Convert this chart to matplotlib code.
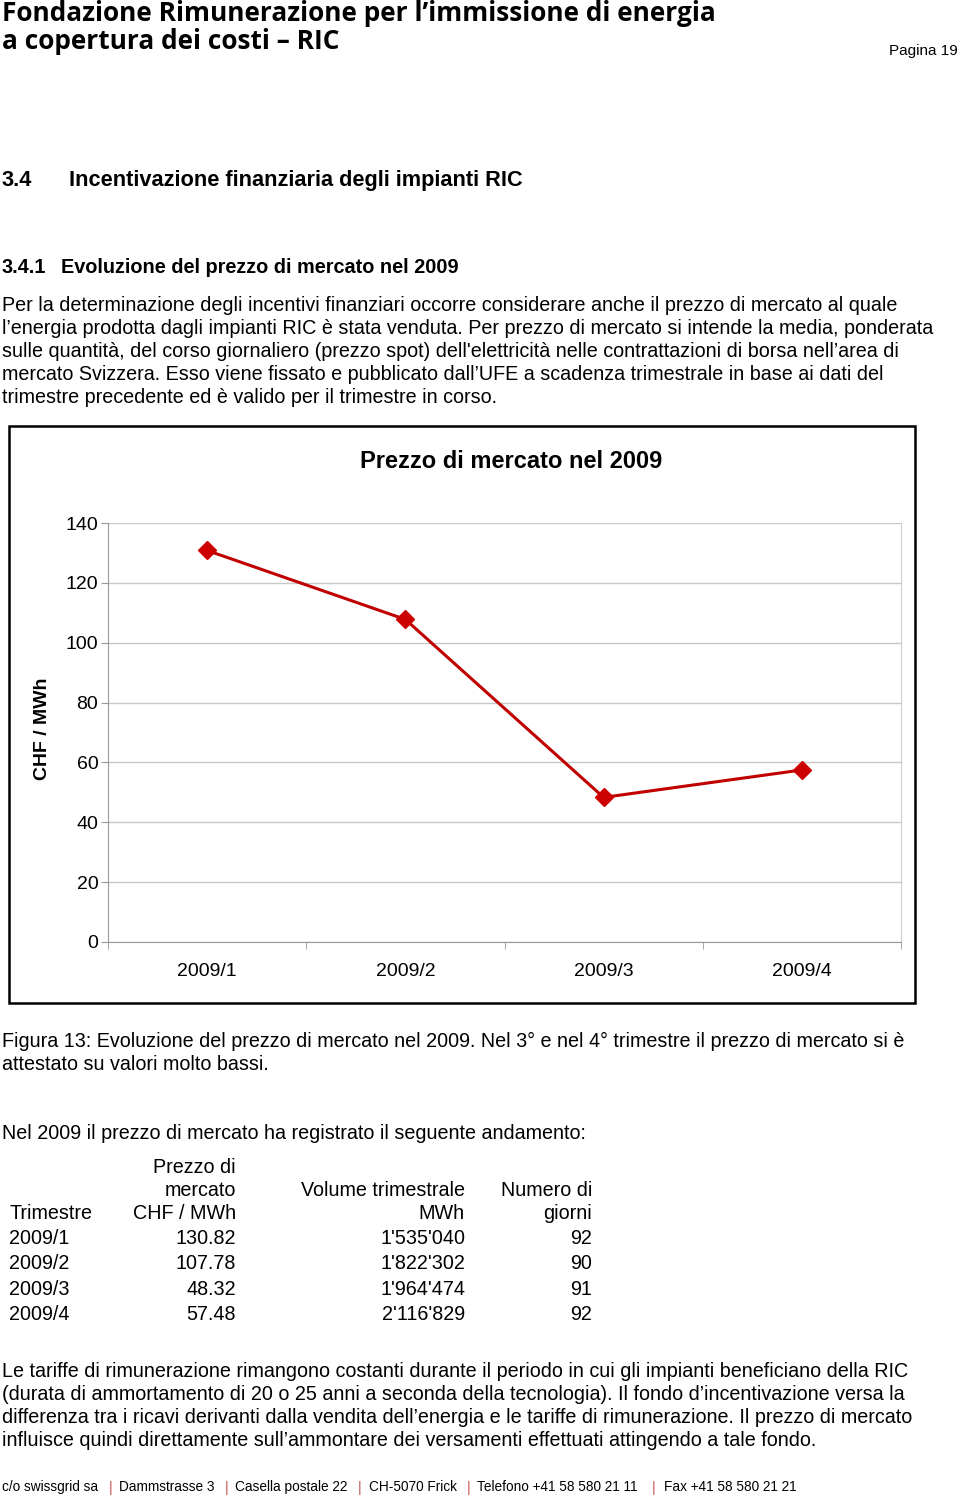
import matplotlib
matplotlib.use('Agg')
import matplotlib.pyplot as plt
from matplotlib.patches import Rectangle

# data
quarters = ['2009/1', '2009/2', '2009/3', '2009/4']
prices = [130.82, 107.78, 48.32, 57.48]
volumes = [1535040, 1822302, 1964474, 2116829]
days = [92, 90, 91, 92]
y_ticks = [0, 20, 40, 60, 80, 100, 120, 140]

W, H = 960, 1501
BODY = ['Liberation Sans', 'DejaVu Sans']
FS = 14.2
RED = '#c00000'

fig = plt.figure(figsize=(W / 100, H / 100), dpi=100)


def txt(x, y, s, size=FS, weight='normal', ha='left', family=BODY, **kw):
    # x, y in pixels from top-left, y is the baseline
    return fig.text(x / W, 1 - y / H, s, fontsize=size, fontweight=weight,
                    ha=ha, va='baseline', family=family, **kw)


# page header
head_font = ['Open Sans', 'DejaVu Sans']
txt(2, 21, 'Fondazione Rimunerazione per l\u2019immissione di energia', size=18.9,
    weight='bold', family=head_font)
txt(2, 49, 'a copertura dei costi \u2013 RIC', size=18.9, weight='bold', family=head_font)
txt(958, 55, 'Pagina 19', size=11, ha='right')

txt(2, 186, '3.4', size=15.7, weight='bold')
txt(69, 186, 'Incentivazione finanziaria degli impianti RIC', size=15.7, weight='bold')
txt(2, 273, '3.4.1', size=14.3, weight='bold')
txt(61, 273, 'Evoluzione del prezzo di mercato nel 2009', size=14.3, weight='bold')

para1 = [
    'Per la determinazione degli incentivi finanziari occorre considerare anche il prezzo di mercato al quale',
    'l\u2019energia prodotta dagli impianti RIC \u00e8 stata venduta. Per prezzo di mercato si intende la media, ponderata',
    'sulle quantit\u00e0, del corso giornaliero (prezzo spot) dell\'elettricit\u00e0 nelle contrattazioni di borsa nell\u2019area di',
    'mercato Svizzera. Esso viene fissato e pubblicato dall\u2019UFE a scadenza trimestrale in base ai dati del',
    'trimestre precedente ed \u00e8 valido per il trimestre in corso.',
]
for i, line in enumerate(para1):
    txt(2, 311 + 23 * i, line)

# chart frame
fig.patches.append(Rectangle((9 / W, 1 - 1003 / H), 906 / W, 577 / H,
                             transform=fig.transFigure, fill=False,
                             edgecolor='black', linewidth=1.8))
txt(511, 468, 'Prezzo di mercato nel 2009', size=17, weight='bold', ha='center')

ax = fig.add_axes([108 / W, 1 - 942 / H, 793 / W, 419 / H])
xs = list(range(1, len(quarters) + 1))
ax.plot(xs, prices, color=RED, linewidth=2.2, marker='D', markersize=9.5,
        markerfacecolor='#cc0000', markeredgecolor='#cc0000', zorder=3)
ax.set_xlim(0.5, len(quarters) + 0.5)
ax.set_ylim(0, 140)
ax.set_yticks(y_ticks)
ax.set_yticklabels([str(t) for t in y_ticks], fontsize=14, family=BODY)
ax.set_xticks(xs)
ax.set_xticklabels(quarters, fontsize=14, family=BODY)
ax.set_xticks([x + 0.5 for x in range(len(quarters) + 1)], minor=True)
ax.tick_params(axis='x', which='major', length=0, pad=15)
ax.tick_params(axis='x', which='minor', length=5, color='#999999', direction='out')
ax.tick_params(axis='y', length=5, color='#999999', pad=2)
ax.grid(axis='y', color='#c8c8c8', linewidth=1)
ax.set_axisbelow(True)
for side in ['left', 'bottom']:
    ax.spines[side].set_color('#999999')
ax.spines['right'].set_color('#d0d0d0')
ax.spines['top'].set_visible(False)
ax.set_ylabel('CHF / MWh', fontsize=14, fontweight='bold', family=BODY)
ax.yaxis.set_label_coords(-57 / 793, 0.51)

# caption
txt(2, 1047, 'Figura 13: Evoluzione del prezzo di mercato nel 2009. Nel 3\u00b0 e nel 4\u00b0 trimestre il prezzo di mercato si \u00e8')
txt(2, 1070, 'attestato su valori molto bassi.')
txt(2, 1139, 'Nel 2009 il prezzo di mercato ha registrato il seguente andamento:')

# table
txt(236, 1173, 'Prezzo di', ha='right')
txt(236, 1196, 'mercato', ha='right')
txt(465, 1196, 'Volume trimestrale', ha='right')
txt(592, 1196, 'Numero di', ha='right')
txt(9, 1219, 'Trimestre')
txt(236, 1219, 'CHF / MWh', ha='right')
txt(465, 1219, 'MWh', ha='right')
txt(592, 1219, 'giorni', ha='right')
for i, (q, p, v, d) in enumerate(zip(quarters, prices, volumes, days)):
    yb = 1244 + 25.3 * i
    txt(9, yb, q)
    txt(236, yb, f'{p:.2f}', ha='right')
    txt(465, yb, f'{v:,}'.replace(',', "'"), ha='right')
    txt(592, yb, str(d), ha='right')

para2 = [
    'Le tariffe di rimunerazione rimangono costanti durante il periodo in cui gli impianti beneficiano della RIC',
    '(durata di ammortamento di 20 o 25 anni a seconda della tecnologia). Il fondo d\u2019incentivazione versa la',
    'differenza tra i ricavi derivanti dalla vendita dell\u2019energia e le tariffe di rimunerazione. Il prezzo di mercato',
    'influisce quindi direttamente sull\u2019ammontare dei versamenti effettuati attingendo a tale fondo.',
]
for i, line in enumerate(para2):
    txt(2, 1377 + 23 * i, line)

# footer
foot_font = ['Liberation Sans Narrow', 'Liberation Sans']
footer = [(2, 'c/o swissgrid sa'), (119, 'Dammstrasse 3'), (235, 'Casella postale 22'),
          (369, 'CH-5070 Frick'), (477, 'Telefono +41 58 580 21 11'), (664, 'Fax +41 58 580 21 21')]
seps = [109, 225, 358, 467, 652]
for x, s in footer:
    txt(x, 1491, s, size=9.8, family=foot_font)
for x in seps:
    txt(x, 1492, '|', size=10, color='#c0504d', family=BODY)

fig.savefig('out.png', dpi=100)
